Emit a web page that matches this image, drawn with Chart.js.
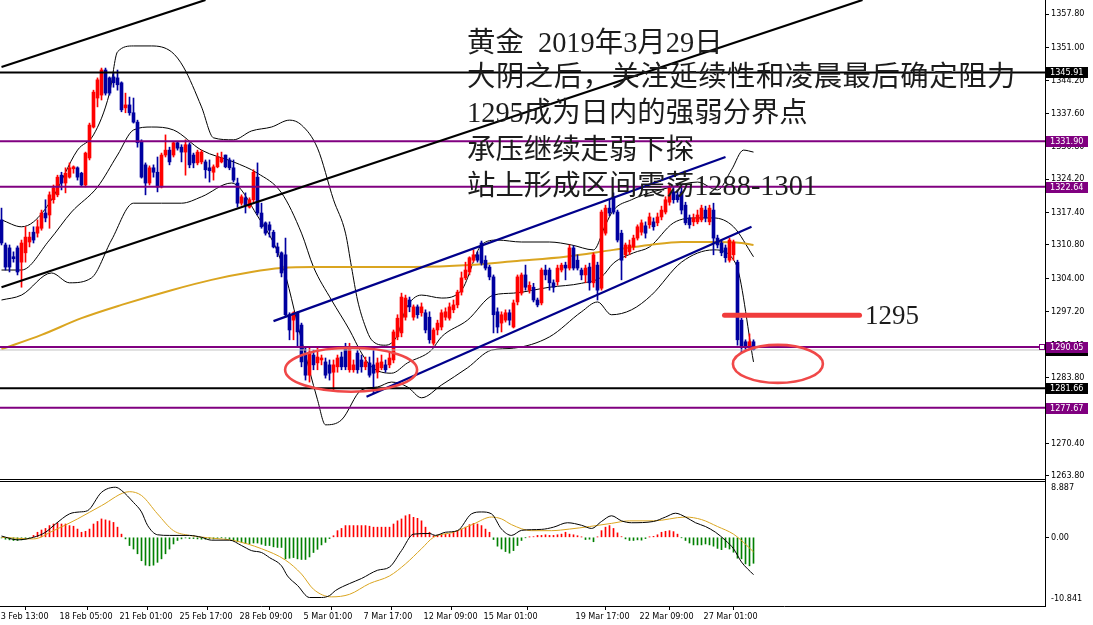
<!DOCTYPE html>
<html><head><meta charset="utf-8">
<script src="https://cdn.jsdelivr.net/npm/chart.js@4.4.1/dist/chart.umd.min.js"></script>
<style>
html,body{margin:0;padding:0;background:#fff;overflow:hidden}
#wrap{position:relative;width:1093px;height:625px;overflow:hidden}
canvas{position:absolute;left:0}
#c1{top:0}
#c2{top:480px}
.note{position:absolute;font-family:"Liberation Serif","Noto Sans CJK SC",serif;color:#1c1c1c;white-space:pre;font-size:28.4px;line-height:1}
</style></head><body>
<div id="wrap">
<canvas id="c1" width="1093" height="490"></canvas>
<canvas id="c2" width="1093" height="145"></canvas>
<div class="note" style="left:467px;top:29px">黄金  2019年3月29日</div>
<div class="note" style="left:467px;top:63px;letter-spacing:0.5px">大阴之后，关注延续性和凌晨最后确定阻力</div>
<div class="note" style="left:467px;top:99px">1295成为日内的强弱分界点</div>
<div class="note" style="left:467px;top:136px">承压继续走弱下探</div>
<div class="note" style="left:467px;top:172px">站上形成区间震荡1288-1301</div>
<div class="note" style="left:865px;top:302px;font-size:27px">1295</div>
</div>
<script>
// ---------- DATA ----------
const opens = [1315.9,1310.8,1310.2,1308.4,1310.2,1307.3,1309.2,1311.4,1313.4,1313.2,1314.2,1317.3,1316.9,1320.0,1321.0,1325.0,1323.4,1324.6,1326.3,1326.5,1325.4,1323.0,1328.5,1334.8,1340.7,1341.3,1346.4,1344.8,1345.0,1344.8,1343.8,1338.7,1339.3,1337.7,1335.8,1331.8,1327.1,1323.4,1326.5,1325.6,1322.6,1329.1,1330.1,1329.1,1331.6,1330.7,1329.7,1331.2,1329.1,1327.5,1327.7,1327.7,1326.5,1325.6,1326.7,1327.7,1329.1,1328.1,1326.5,1323.4,1319.3,1320.4,1318.5,1320.0,1324.6,1317.3,1315.3,1314.9,1313.4,1310.4,1309.2,1308.8,1296.6,1295.5,1297.0,1294.5,1288.4,1284.3,1288.4,1286.8,1287.4,1287.0,1286.4,1284.9,1286.0,1288.0,1290.0,1285.4,1285.4,1288.8,1287.4,1286.0,1286.8,1286.4,1284.9,1285.8,1286.4,1286.4,1287.4,1292.1,1292.9,1296.1,1299.6,1296.1,1298.2,1297.0,1297.0,1296.1,1290.8,1293.5,1294.1,1296.1,1295.9,1297.6,1298.6,1301.2,1304.1,1305.3,1307.7,1308.8,1311.2,1307.7,1306.3,1304.3,1297.2,1294.9,1295.5,1297.0,1294.1,1299.2,1301.0,1304.7,1301.6,1302.2,1299.6,1299.0,1305.7,1305.7,1303.1,1303.3,1305.7,1306.7,1306.1,1310.2,1307.7,1305.7,1304.7,1306.3,1303.1,1306.7,1302.0,1313.2,1318.3,1320.6,1317.5,1313.2,1308.8,1309.4,1310.4,1312.2,1313.4,1314.7,1314.9,1315.5,1315.3,1316.5,1317.5,1319.5,1321.6,1321.0,1321.6,1318.9,1316.3,1315.5,1315.5,1315.9,1317.9,1315.5,1317.9,1312.2,1311.2,1310.2,1307.7,1308.8,1307.3,1295.5,1291.1,1290.2,1291.1];
const highs = [1318.3,1311.2,1310.8,1309.4,1310.6,1311.8,1314.5,1313.4,1314.5,1315.9,1317.9,1320.0,1321.6,1323.0,1325.0,1325.6,1326.5,1327.5,1326.9,1326.7,1325.6,1329.7,1335.6,1342.3,1344.8,1346.8,1346.8,1345.0,1345.8,1346.4,1344.0,1341.7,1340.9,1340.7,1336.2,1332.2,1327.5,1326.9,1327.1,1328.7,1329.5,1333.2,1330.7,1331.8,1331.8,1331.2,1332.2,1331.6,1329.5,1330.1,1330.1,1328.1,1328.1,1327.1,1329.5,1329.7,1329.1,1328.5,1328.1,1324.4,1321.0,1321.4,1320.4,1326.1,1327.5,1319.3,1315.5,1315.5,1313.8,1311.2,1309.4,1312.2,1297.0,1297.2,1297.2,1294.9,1290.0,1290.0,1289.4,1289.8,1288.4,1287.8,1287.4,1287.4,1288.4,1289.0,1290.8,1290.8,1287.4,1289.4,1288.4,1288.0,1288.0,1289.4,1287.8,1288.4,1287.4,1288.8,1293.5,1296.6,1301.0,1300.6,1300.2,1298.6,1298.6,1299.0,1297.6,1297.2,1293.9,1295.5,1297.6,1298.0,1299.0,1299.6,1301.6,1305.3,1307.3,1308.4,1309.8,1309.4,1311.6,1308.6,1306.7,1304.7,1298.0,1297.2,1297.6,1297.6,1299.6,1304.7,1305.1,1306.7,1303.3,1303.0,1300.0,1306.1,1306.7,1306.1,1303.7,1306.7,1307.1,1307.3,1310.8,1310.6,1308.8,1306.1,1306.7,1307.1,1309.2,1307.3,1317.9,1318.9,1320.0,1321.4,1317.9,1313.8,1311.2,1311.8,1312.8,1314.9,1315.9,1315.5,1317.3,1316.3,1317.3,1318.7,1320.6,1323.0,1322.8,1322.0,1323.0,1319.5,1316.9,1317.1,1317.9,1318.9,1318.7,1318.9,1319.3,1312.8,1311.8,1310.8,1312.2,1311.8,1307.7,1295.9,1291.5,1292.7,1291.5];
const lows = [1310.8,1305.7,1305.3,1307.3,1304.7,1302.2,1307.3,1310.4,1311.2,1312.4,1313.8,1315.5,1314.2,1319.3,1320.6,1322.0,1321.4,1324.4,1325.4,1324.0,1322.8,1322.6,1328.1,1334.6,1338.9,1340.3,1341.3,1341.3,1342.9,1342.3,1337.9,1337.7,1337.2,1335.6,1330.7,1324.4,1321.0,1323.0,1324.6,1321.6,1322.4,1328.7,1327.1,1328.7,1330.1,1327.7,1325.0,1326.5,1326.5,1327.1,1327.3,1324.4,1323.6,1324.0,1326.5,1327.5,1326.5,1326.1,1323.6,1318.5,1318.9,1317.3,1318.3,1319.5,1316.9,1314.2,1312.8,1312.4,1310.2,1308.4,1304.3,1296.1,1291.5,1291.5,1290.0,1286.0,1283.3,1282.9,1285.4,1285.4,1286.4,1283.7,1283.3,1281.3,1284.9,1285.4,1285.4,1284.9,1284.9,1284.7,1284.9,1285.4,1283.9,1280.7,1283.7,1285.4,1284.9,1285.8,1286.8,1291.5,1292.1,1295.5,1297.2,1295.5,1295.9,1296.3,1292.9,1290.8,1290.4,1292.5,1293.5,1295.5,1295.5,1297.0,1298.0,1300.6,1303.7,1304.7,1307.3,1307.3,1306.7,1305.7,1303.7,1292.9,1292.9,1293.1,1295.1,1294.5,1293.9,1298.6,1300.6,1301.6,1301.0,1299.2,1298.2,1298.6,1303.7,1301.6,1301.2,1302.6,1305.3,1303.7,1305.7,1305.7,1305.7,1303.7,1303.1,1301.6,1302.2,1299.6,1301.6,1312.8,1316.7,1317.1,1311.4,1303.7,1308.2,1308.8,1309.8,1311.8,1312.8,1312.2,1314.2,1313.8,1314.7,1315.9,1317.1,1318.9,1319.3,1319.5,1317.1,1314.9,1314.2,1314.7,1315.1,1315.5,1315.5,1314.9,1308.8,1310.2,1308.6,1307.3,1307.3,1307.7,1290.4,1289.0,1289.4,1289.8,1289.4];
const closes = [1311.2,1306.3,1306.3,1308.0,1305.3,1311.2,1312.4,1312.4,1311.8,1314.5,1317.3,1316.3,1321.0,1322.4,1324.6,1323.4,1325.4,1326.5,1326.7,1324.6,1323.0,1329.5,1335.2,1341.9,1344.4,1346.4,1341.7,1341.7,1343.8,1343.4,1338.3,1339.3,1337.7,1335.8,1331.6,1324.6,1323.4,1326.5,1325.6,1322.6,1329.1,1330.1,1327.7,1331.6,1330.5,1329.7,1331.2,1327.1,1327.5,1329.7,1329.7,1326.1,1325.9,1326.7,1328.7,1328.5,1326.7,1326.5,1324.0,1319.3,1320.6,1318.9,1320.0,1325.6,1317.3,1314.5,1313.2,1313.8,1310.4,1309.2,1305.1,1296.6,1293.5,1297.0,1293.1,1287.0,1284.3,1289.0,1286.4,1288.0,1287.8,1284.3,1284.7,1286.4,1287.8,1286.0,1286.0,1290.0,1286.4,1285.4,1286.0,1287.0,1284.3,1284.7,1286.8,1287.0,1285.4,1287.8,1293.1,1295.9,1300.2,1300.0,1298.2,1298.2,1296.6,1298.2,1293.5,1291.5,1293.5,1294.9,1297.0,1297.2,1298.2,1298.6,1301.2,1304.1,1305.7,1308.2,1308.8,1307.7,1307.1,1306.1,1304.3,1296.6,1294.1,1296.6,1297.0,1295.5,1299.0,1304.3,1304.7,1302.2,1302.6,1299.6,1298.6,1305.7,1304.7,1303.1,1302.2,1306.1,1306.7,1306.1,1310.2,1306.1,1306.1,1304.7,1306.1,1303.1,1308.8,1301.6,1317.5,1318.3,1317.3,1317.5,1311.8,1307.7,1310.8,1310.8,1312.2,1314.5,1315.3,1313.2,1316.5,1314.5,1316.5,1317.9,1320.0,1322.4,1320.0,1320.0,1317.9,1315.3,1314.9,1316.3,1316.9,1318.3,1316.3,1318.3,1312.2,1310.8,1309.2,1308.2,1311.8,1311.4,1291.5,1290.0,1290.0,1291.1,1289.5];

// Bollinger bands & moving average, read at bar index: [bar, price]
const bbUpper = [[0,1315.9],[5,1314.5],[8,1315.5],[12.5,1320.0],[19,1330.1],[23,1333.2],[27,1341.7],[29,1350.1],[33,1351.3],[37.5,1351.3],[42.5,1350.1],[45.5,1347.0],[50,1338.9],[53,1332.6],[58,1332.2],[62.5,1334.0],[67.5,1334.8],[72,1336.2],[75,1335.2],[79,1330.5],[83,1320.0],[86,1313.2],[87.5,1306.3],[89,1299.6],[91,1294.1],[92.5,1291.5],[96,1290.4],[99,1292.5],[101,1297.6],[105,1300.6],[110,1300.0],[115,1301.6],[120,1310.8],[124,1311.8],[130,1311.4],[137,1311.4],[142.5,1310.8],[148,1309.8],[151,1314.9],[153,1317.9],[157.5,1320.0],[162,1321.4],[167.5,1322.6],[174,1323.6],[179,1322.0],[182.5,1326.1],[185.5,1330.1],[188,1329.7]];
const bbMiddle = [[0,1305.7],[5,1305.7],[12,1311.8],[17.5,1317.5],[24,1322.6],[29,1329.1],[33,1334.2],[37.5,1334.8],[43,1334.2],[50,1330.1],[58,1327.7],[64,1325.4],[70,1321.4],[75,1313.2],[78,1306.3],[82.5,1299.6],[87,1293.5],[90,1288.8],[92.5,1286.0],[97.5,1284.7],[101.5,1286.8],[107.5,1289.4],[110,1292.1],[116.5,1295.5],[123,1300.6],[128,1301.0],[137,1302.2],[145,1303.0],[150,1304.3],[153,1307.1],[158,1309.2],[162,1310.4],[168,1315.3],[174,1316.3],[178,1316.3],[183,1314.5],[188,1308.4]];
const bbLower = [[0,1299.6],[5,1300.6],[12.5,1305.1],[17,1303.1],[22.5,1304.1],[27.5,1311.8],[33,1319.3],[40,1319.3],[45,1319.3],[50,1320.6],[57.5,1323.4],[64,1316.7],[70,1307.3],[75,1291.5],[79,1279.3],[81,1274.2],[85,1275.2],[90,1281.3],[94,1281.9],[97.5,1282.9],[101.5,1281.9],[105,1279.7],[110,1282.3],[116.5,1285.8],[122.5,1289.4],[128,1289.8],[137,1292.1],[145,1297.2],[149,1299.2],[152.5,1296.6],[157.5,1297.6],[162.5,1300.6],[170,1307.3],[178,1309.8],[183.5,1307.1],[188,1287.0]];
const maLine = [[0,1289.6],[10,1292.5],[20,1295.9],[30,1298.6],[42.5,1301.6],[52.5,1303.7],[62.5,1305.3],[70,1306.1],[78,1306.3],[91,1306.3],[103,1306.3],[117,1306.7],[128,1307.5],[141,1308.4],[153,1309.8],[162,1310.8],[170,1311.4],[178,1311.4],[185,1311.2],[188,1310.8]];

// MACD panel
const histogram = [-0.1,-0.3,-0.4,-0.5,-0.5,-0.4,-0.3,-0.1,0.3,0.8,1.15,1.4,1.85,2.1,2.25,2.1,2.1,1.85,1.75,1.3,0.8,0.95,1.3,2.1,2.5,2.9,2.75,2.6,2.35,1.6,0.5,-0.25,-1.3,-1.85,-2.6,-3.7,-4.4,-4.5,-4.4,-3.95,-3.4,-2.6,-1.85,-1.05,-0.5,-0.25,-0.1,-0.2,-0.2,-0.25,-0.3,-0.3,-0.2,-0.25,-0.2,-0.05,-0.15,-0.3,-0.5,-0.7,-0.8,-1.0,-1.0,-0.9,-0.9,-1.1,-1.3,-1.3,-1.5,-1.6,-1.6,-3.4,-3.3,-3.2,-3.4,-3.5,-3.5,-3.1,-2.4,-1.9,-1.2,-0.8,-0.2,0.25,1.05,1.4,1.85,1.85,1.85,1.85,1.85,1.85,1.75,1.6,1.6,1.6,1.6,1.6,2.1,2.6,2.9,3.4,3.6,3.15,3.0,2.6,1.6,0.8,0.25,0.35,0.5,0.5,0.5,0.8,1.05,1.3,1.6,2.0,2.2,2.1,1.85,1.3,0.8,-0.35,-1.4,-1.85,-2.25,-2.5,-2.1,-1.3,-0.5,-0.05,0.05,0.1,0.3,0.3,0.4,0.3,0.3,0.4,0.5,0.8,0.5,0.4,0.25,0.05,-0.35,-0.3,-0.7,0.05,1.05,1.6,1.85,1.4,0.7,0.1,-0.25,-0.5,-0.5,-0.4,-0.45,-0.2,0.05,0.15,0.4,0.8,0.95,1.05,0.9,0.5,-0.05,-0.5,-0.9,-1.2,-1.2,-1.2,-1.05,-1.2,-1.4,-1.75,-1.95,-1.6,-1.85,-2.35,-3.3,-3.4,-4.2,-4.5,-4.1];
const macdMain = [[0,0.2],[4,-0.4],[8,0],[11,0.8],[13.5,2.1],[17,3.7],[19.5,4.0],[21.5,4.2],[25,7.1],[28.5,7.9],[30,7.4],[33,5.5],[35,4.0],[36.5,1.9],[39,0.4],[42,0.3],[47,0.3],[50,0],[52.5,-0.45],[57,-0.45],[60,-1.3],[62.5,-2.1],[65,-2.4],[67,-3.2],[70,-4.5],[71.5,-6.1],[74,-7.6],[77,-9.5],[80,-9.5],[82,-9.2],[83.5,-8.4],[87,-7.3],[90,-6.5],[94,-5.2],[97,-4.7],[100,-2.1],[103,0.5],[107,0.6],[108.5,0.3],[111,0.8],[114,1.05],[117.5,3.7],[120,4.0],[122.5,3.7],[125,1.3],[127.5,0.3],[130,1.1],[135,1.25],[138,1.6],[141.5,2.3],[145,1.9],[147.5,1.4],[150,2.5],[152.5,3.4],[155,2.6],[157.5,2.3],[163,2.5],[166,3.2],[168.5,3.8],[171,3.2],[173.5,2.3],[176,1.7],[178.5,0.8],[181,-0.5],[183,-1.8],[185,-3.9],[188,-5.9]];
const macdSignal = [[0,0],[8,-0.25],[13,1.05],[19,2.9],[25,5.0],[32,7.2],[35,6.6],[39,3.7],[43,1.05],[47,0.3],[53,-0.15],[58,-0.5],[65,-1.8],[71,-3.6],[75,-5.8],[78,-8.2],[82.5,-9.4],[87,-9.0],[92,-7.3],[97,-6.1],[101,-4.2],[105,-1.8],[108,0],[113,0.8],[118,2.1],[122.5,3.2],[125,2.9],[127.5,2.0],[132.5,1.05],[137.5,1.05],[142,1.3],[147,1.7],[152.5,2.2],[157,2.6],[163,2.6],[171,3.2],[175,2.8],[179,1.7],[183,0.5],[185.5,-0.8],[188,-2.3]];

// axes
const priceTicks = [1357.80,1351.00,1344.20,1337.60,1330.80,1324.20,1317.40,1310.80,1304.00,1297.20,1290.40,1283.80,1277.20,1270.40,1263.80];
const timeTickIdx = [-2,14,29,44,59,75,90,105,120,143,159,175];
const timeTickLabels = ['13 Feb 13:00','18 Feb 05:00','21 Feb 01:00','25 Feb 17:00','28 Feb 09:00','5 Mar 01:00','7 Mar 17:00','12 Mar 09:00','15 Mar 01:00','19 Mar 17:00','22 Mar 09:00','27 Mar 01:00'];
const macdTickLabels = ['8.887','0.00','-10.841'];
const macdMax = 8.887, macdMin = -10.841;

// drawn levels & lines
const levelValues = [1345.91,1331.90,1322.64,1290.05,1281.66,1277.67];
const bidPrice = 1289.43;
const blackTrends = [[[0,1347.0],[51,1360.65]],[[0,1302.2],[215.25,1360.65]]];
const channelLines = [[[68,1295.3],[181,1328.7]],[[91.25,1279.9],[187.5,1314.5]]];
const markLine1295 = [[180.75,1296.5],[214.5,1296.5]];
const ellipses = [{i:87.4,p:1285.4,ri:16.5,rp:4.48},{i:194.1,p:1286.6,ri:11.25,rp:3.87}];

// ---------- STYLE ----------
const RED='#ff0000', BLUE='#0000a0', PURPLE='#800080', GOLD='#daa520';
const levelColors = ['#000',PURPLE,PURPLE,PURPLE,'#000',PURPLE];
const XMIN=-0.375, XMAX=260.875;
const FONT_FAM = '"DejaVu Sans Condensed", "Liberation Sans", Arial, sans-serif';
const axisFont = {family:FONT_FAM, size:9};
Chart.defaults.font.family = FONT_FAM;

const pts = a => a.map(([x,y])=>({x,y}));
const bull = i => closes[i] >= opens[i];

const lineDs = (data, color, width, order, extra={}) => Object.assign({type:'line', data:pts(data), borderColor:color, borderWidth:width, pointRadius:0, order, fill:false, tension:0}, extra);

const ds1 = [];
ds1.push(lineDs(markLine1295,'#f03c3c',5,0,{borderCapStyle:'round'}));
blackTrends.forEach(l=>ds1.push(lineDs(l,'#000',2.2,1)));
channelLines.forEach(l=>ds1.push(lineDs(l,'#00008b',2.2,1)));
levelValues.forEach((v,k)=>ds1.push(lineDs([[XMIN-5,v],[XMAX+5,v]],levelColors[k],2,2)));
ds1.push(lineDs([[XMIN-5,bidPrice],[XMAX+5,bidPrice]],'#c0c0c0',1,3));
ds1.push({type:'bar', data:opens.map((o,i)=>({x:i,y:[o,closes[i]]})), backgroundColor:opens.map((o,i)=>bull(i)?RED:BLUE), barThickness:3, minBarLength:1, grouped:false, order:5, borderWidth:0});
ds1.push({type:'bar', data:highs.map((h,i)=>({x:i,y:[lows[i],h]})), backgroundColor:opens.map((o,i)=>bull(i)?RED:BLUE), barThickness:1, minBarLength:1, grouped:false, order:6, borderWidth:0});
ds1.push(lineDs(maLine,GOLD,2,8,{cubicInterpolationMode:'monotone'}));
[bbUpper,bbMiddle,bbLower].forEach(b=>ds1.push(lineDs(b,'#000',1,9,{cubicInterpolationMode:'monotone'})));

const annot = {
  id:'annot',
  afterDatasetsDraw(chart){
    const {ctx, chartArea:a, scales:{x,y}} = chart;
    ctx.save();
    ctx.beginPath(); ctx.rect(a.left,a.top,a.right-a.left,a.bottom-a.top); ctx.clip();
    ellipses.forEach(e=>{
      const cx=x.getPixelForValue(e.i), cy=y.getPixelForValue(e.p);
      const rx=Math.abs(x.getPixelForValue(e.i+e.ri)-cx), ry=Math.abs(y.getPixelForValue(e.p+e.rp)-cy);
      ctx.beginPath(); ctx.ellipse(cx,cy,rx,ry,0,0,Math.PI*2);
      ctx.strokeStyle='#f04848'; ctx.lineWidth=2.6; ctx.stroke();
    });
    ctx.restore();
  },
  afterDraw(chart){
    const {ctx, chartArea:a, scales:{y}} = chart;
    ctx.save();
    ctx.fillStyle='#000'; ctx.fillRect(0,a.bottom-1,a.right+1,1);
    ctx.font = '9px ' + FONT_FAM; ctx.textBaseline='middle'; ctx.textAlign='left';
    const box=(v,col)=>{ const py=Math.round(y.getPixelForValue(v)); ctx.fillStyle=col; ctx.fillRect(a.right+1,py-5,42,11); ctx.fillStyle='#fff'; ctx.fillText(v.toFixed(2),a.right+5,py+0.5); };
    box(bidPrice,'#000');
    levelValues.forEach((v,k)=>box(v,levelColors[k]));
    const py=Math.round(y.getPixelForValue(levelValues[3]));
    ctx.fillStyle='#fff'; ctx.fillRect(a.right-5,py-2,4,4); ctx.strokeStyle=PURPLE; ctx.lineWidth=1; ctx.strokeRect(a.right-5.5,py-2.5,5,5);
    ctx.restore();
  }
};

new Chart(document.getElementById('c1'), {
  type:'bar',
  data:{datasets:ds1},
  options:{
    responsive:false, animation:false, devicePixelRatio:1,
    layout:{padding:{left:0,right:0,top:0,bottom:10}},
    plugins:{legend:{display:false}, tooltip:{enabled:false}},
    scales:{
      x:{type:'linear', display:false, min:XMIN, max:XMAX, offset:false},
      y:{type:'linear', position:'right', min:1262.97, max:1360.65,
        afterBuildTicks:s=>{s.ticks=priceTicks.map(v=>({value:v}));},
        afterFit:s=>{s.width=48; s.paddingTop=0; s.paddingBottom=0;},
        ticks:{padding:2, color:'#000', font:axisFont, callback:v=>Number(v).toFixed(2)},
        grid:{drawOnChartArea:false, drawTicks:true, tickLength:4, color:'#000'},
        border:{display:true, color:'#000', width:1}
      }
    }
  },
  plugins:[annot]
});

// ---------- MACD ----------
const frame2 = {
  id:'frame2',
  afterDraw(chart){
    const {ctx, chartArea:a} = chart;
    ctx.save(); ctx.fillStyle='#000'; ctx.fillRect(0,a.top,a.right+1,1); ctx.restore();
  }
};
const pxPerUnit = 125/(macdMax-macdMin);
const macdTickVals = [macdMax-7/pxPerUnit, 0, macdMin+7/pxPerUnit];

new Chart(document.getElementById('c2'), {
  type:'bar',
  data:{datasets:[
    lineDs(macdMain,'#000',1,1,{cubicInterpolationMode:'monotone'}),
    lineDs(macdSignal,GOLD,1,2,{cubicInterpolationMode:'monotone'}),
    {type:'bar', data:histogram.map((v,i)=>({x:i,y:v})), backgroundColor:histogram.map(v=>v>=0?RED:'#008000'), barThickness:1, grouped:false, order:3, borderWidth:0}
  ]},
  options:{
    responsive:false, animation:false, devicePixelRatio:1,
    layout:{padding:{left:0,right:0,top:1,bottom:0}},
    plugins:{legend:{display:false}, tooltip:{enabled:false}},
    scales:{
      x:{type:'linear', min:XMIN, max:XMAX, offset:false,
        afterBuildTicks:s=>{s.ticks=timeTickIdx.map(v=>({value:v}));},
        afterFit:s=>{s.height=19; s.paddingLeft=0; s.paddingRight=0;},
        ticks:{autoSkip:false, maxRotation:0, minRotation:0, align:'start', padding:1, labelOffset:2, color:'#000', font:axisFont, callback:(v,i)=>timeTickLabels[i]},
        grid:{drawOnChartArea:false, drawTicks:true, tickLength:4, color:'#000'},
        border:{display:true, color:'#000', width:1}
      },
      y:{type:'linear', position:'right', min:macdMin, max:macdMax,
        afterBuildTicks:s=>{s.ticks=macdTickVals.map(v=>({value:v}));},
        afterFit:s=>{s.width=48; s.paddingTop=0; s.paddingBottom=0;},
        ticks:{padding:2, color:'#000', font:axisFont, callback:(v,i)=>macdTickLabels[i]},
        grid:{drawOnChartArea:false, drawTicks:true, tickLength:4, color:c=>(c.tick && c.tick.value===0)?'#000':'rgba(0,0,0,0)'},
        border:{display:true, color:'#000', width:1}
      }
    }
  },
  plugins:[frame2]
});
</script>
</body></html>
